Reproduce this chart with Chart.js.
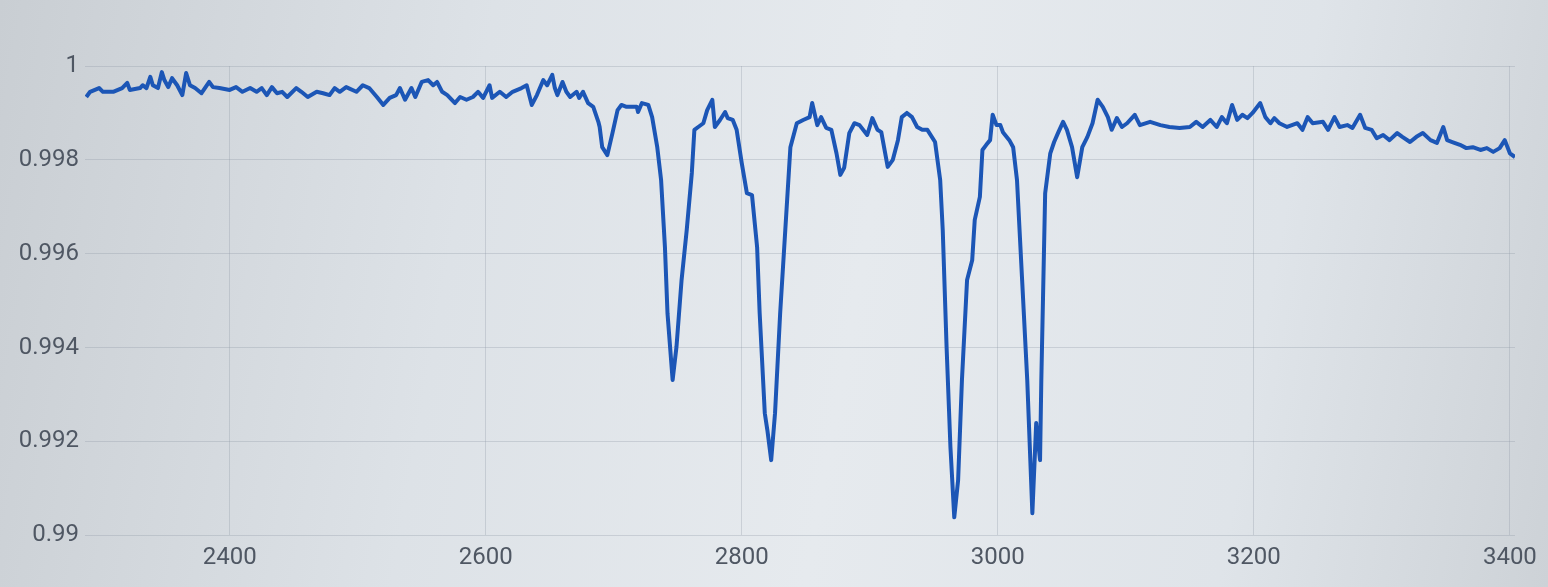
<!DOCTYPE html>
<html>
<head>
<meta charset="utf-8">
<title>Spectrum</title>
<script src="https://cdn.jsdelivr.net/npm/chart.js@4.4.1/dist/chart.umd.min.js"></script>
<style>
    html, body {
        margin: 0;
        padding: 0;
        width: 1548px;
        height: 587px;
        overflow: hidden;
        background: linear-gradient(100deg, #c9ced3 0%, #dde2e7 30%, #e6eaee 55%, #dfe4e9 80%, #cdd2d7 100%);
        font-family: Roboto, "Liberation Sans", Arial, sans-serif;
    }
    .container {
        position: relative;
        width: 1548px;
        height: 587px;
    }
</style>
</head>
<body>
<div class="container">
    <canvas id="spectrum-chart"></canvas>
</div>
<script>
// wavelength (x) and relative flux (y)
const wavelengths = [
    2288, 2291, 2298, 2301, 2309, 2316, 2320, 2322, 2330, 2332, 2335, 2338, 2340, 2344, 2347, 2349,
    2352, 2355, 2359, 2363, 2366, 2369, 2373, 2378, 2384, 2387, 2392, 2400, 2405, 2410, 2416, 2421,
    2425, 2429, 2433, 2437, 2441, 2445, 2452, 2456, 2461, 2468, 2473, 2478, 2482, 2486,
    2491, 2499, 2504, 2509, 2515, 2520, 2525, 2530, 2533, 2537, 2542, 2545, 2550, 2555, 2559, 2562,
    2566, 2570, 2576, 2580, 2585, 2590, 2594, 2598, 2603, 2605, 2611, 2616, 2621, 2628, 2632, 2636,
    2640, 2645, 2648, 2652, 2654, 2656, 2660, 2663, 2666, 2671, 2673, 2676, 2680, 2684, 2688,
    2689, 2691, 2695, 2699, 2703, 2706, 2710, 2718, 2719, 2722, 2727, 2730, 2734, 2737, 2740, 2742,
    2746, 2749, 2753, 2757, 2761, 2763, 2766, 2770, 2773, 2777, 2779, 2783, 2787, 2789, 2793, 2796,
    2800, 2804, 2808, 2812, 2814, 2818, 2820, 2823, 2826, 2830, 2834, 2838, 2843, 2848, 2853, 2855,
    2859, 2862, 2866, 2870, 2874, 2877, 2880, 2884, 2888, 2892,
    2898, 2902, 2906, 2909, 2914, 2918, 2922, 2925, 2929, 2933, 2937, 2941, 2945, 2951, 2955, 2957,
    2960, 2963, 2966, 2969, 2972, 2976, 2980, 2982, 2986, 2988, 2991, 2994, 2996, 2999, 3002, 3004,
    3009, 3012, 3015, 3019, 3023, 3027, 3030, 3033, 3034, 3037, 3041, 3044, 3047, 3051, 3054, 3058,
    3062, 3066, 3070, 3074, 3078, 3082, 3086, 3089, 3093, 3097, 3101, 3107, 3111, 3119, 3127, 3134,
    3142, 3150, 3155, 3160, 3166, 3171, 3175, 3179, 3183, 3187, 3191, 3195, 3199, 3205, 3209, 3213,
    3216, 3220, 3226, 3234, 3238, 3242, 3246, 3254, 3258, 3263, 3267, 3273, 3277, 3283, 3287, 3292,
    3296, 3301, 3306, 3312, 3316, 3322, 3327, 3332, 3338, 3343, 3348, 3351, 3355, 3361, 3366, 3371,
    3377, 3382, 3387, 3392, 3396, 3400, 3404
];

const flux = [
    0.99934, 0.99945, 0.99953, 0.99945, 0.99945, 0.99953, 0.99964, 0.99949, 0.99953, 0.99959, 0.99953, 0.99977, 0.99959, 0.99953, 0.99987, 0.99970,
    0.99955, 0.99974, 0.99959, 0.99938, 0.99985, 0.99959, 0.99953, 0.99942, 0.99966, 0.99955, 0.99953, 0.99949, 0.99955, 0.99945, 0.99953, 0.99945,
    0.99953, 0.99938, 0.99955, 0.99942, 0.99945, 0.99934, 0.99953, 0.99945, 0.99934, 0.99945, 0.99942, 0.99938, 0.99953, 0.99945,
    0.99955, 0.99945, 0.99959, 0.99953, 0.99934, 0.99917, 0.99932, 0.99938, 0.99953, 0.99928, 0.99953, 0.99934, 0.99966, 0.99970, 0.99959, 0.99966,
    0.99945, 0.99938, 0.99921, 0.99934, 0.99928, 0.99934, 0.99945, 0.99932, 0.99959, 0.99932, 0.99945, 0.99934, 0.99945, 0.99953, 0.99959, 0.99917,
    0.99938, 0.99970, 0.99959, 0.99981, 0.99953, 0.99938, 0.99966, 0.99945, 0.99934, 0.99945, 0.99932, 0.99945, 0.99921, 0.99913, 0.99881,
    0.99870, 0.99827, 0.99810, 0.99857, 0.99906, 0.99917, 0.99913, 0.99913, 0.99902, 0.99921, 0.99917, 0.99891, 0.99827, 0.99757, 0.99614, 0.99473,
    0.99331, 0.99401, 0.99544, 0.99650, 0.99772, 0.99864, 0.99870, 0.99878, 0.99906, 0.99928, 0.99870, 0.99885, 0.99902, 0.99889, 0.99885, 0.99864,
    0.99793, 0.99729, 0.99725, 0.99614, 0.99473, 0.99260, 0.99224, 0.99160, 0.99260, 0.99473, 0.99650, 0.99827, 0.99878, 0.99885, 0.99891, 0.99921,
    0.99874, 0.99891, 0.99868, 0.99864, 0.99814, 0.99768, 0.99783, 0.99857, 0.99878, 0.99874,
    0.99853, 0.99889, 0.99864, 0.99859, 0.99785, 0.99800, 0.99842, 0.99891, 0.99900, 0.99891, 0.99870, 0.99864, 0.99864, 0.99838, 0.99757, 0.99650,
    0.99401, 0.99188, 0.99038, 0.99117, 0.99331, 0.99544, 0.99586, 0.99672, 0.99721, 0.99821, 0.99832, 0.99842, 0.99896, 0.99874, 0.99874, 0.99859,
    0.99842, 0.99827, 0.99757, 0.99544, 0.99331, 0.99047, 0.99239, 0.99160, 0.99331, 0.99729, 0.99814, 0.99838, 0.99857, 0.99881, 0.99864, 0.99827,
    0.99763, 0.99827, 0.99849, 0.99878, 0.99928, 0.99913, 0.99891, 0.99864, 0.99889, 0.99870, 0.99878, 0.99896, 0.99874, 0.99881, 0.99874, 0.99870,
    0.99868, 0.99870, 0.99881, 0.99870, 0.99885, 0.99870, 0.99891, 0.99878, 0.99917, 0.99885, 0.99896, 0.99889, 0.99900, 0.99921, 0.99891, 0.99878,
    0.99889, 0.99878, 0.99870, 0.99878, 0.99864, 0.99891, 0.99878, 0.99881, 0.99864, 0.99891, 0.99870, 0.99874, 0.99868, 0.99896, 0.99868, 0.99864,
    0.99846, 0.99853, 0.99842, 0.99857, 0.99849, 0.99838, 0.99849, 0.99857, 0.99842, 0.99836, 0.99870, 0.99842, 0.99838, 0.99832, 0.99825, 0.99827,
    0.99821, 0.99825, 0.99817, 0.99825, 0.99842, 0.99814, 0.99806
];

// axis range and tick values
const xMin = 2287;
const xMax = 3404;
const xTickStep = 200;
const yMin = 0.99;
const yMax = 1.0;
const yTickStep = 0.002;

document.addEventListener('DOMContentLoaded', () => {
    const canvas = document.getElementById('spectrum-chart');
    canvas.width = 1548;
    canvas.height = 587;
    drawSpectrum(canvas.getContext('2d'));
});

function drawSpectrum(ctx) {
    const points = wavelengths.map((w, i) => ({ x: w, y: flux[i] }));
    const tickFont = { family: 'Roboto, "Liberation Sans", Arial, sans-serif', size: 24 };
    const gridColor = 'rgba(140, 150, 162, 0.3)';

    new Chart(ctx, {
        type: 'line',
        data: {
            datasets: [{
                data: points,
                borderColor: '#1c56b6',
                borderWidth: 4,
                pointRadius: 0,
                tension: 0,
                borderJoinStyle: 'round',
                fill: false
            }]
        },
        options: {
            responsive: false,
            animation: false,
            layout: { padding: { top: 66, right: 33, bottom: 7, left: 4 } },
            plugins: { legend: { display: false }, tooltip: { enabled: false } },
            scales: {
                x: {
                    type: 'linear',
                    min: xMin,
                    max: xMax,
                    grid: { color: gridColor, drawTicks: false },
                    border: { display: false },
                    ticks: {
                        stepSize: xTickStep,
                        includeBounds: false,
                        color: '#4f5763',
                        font: tickFont,
                        padding: 8,
                        maxRotation: 0,
                        callback: v => String(v)
                    }
                },
                y: {
                    min: yMin,
                    max: yMax,
                    afterFit: scale => { scale.width = 81; },
                    grid: { color: gridColor, drawTicks: false },
                    border: { display: false },
                    ticks: {
                        stepSize: yTickStep,
                        color: '#4f5763',
                        font: tickFont,
                        padding: 6,
                        callback: v => String(Number(v.toFixed(3)))
                    }
                }
            }
        }
    });
}
</script>
</body>
</html>
